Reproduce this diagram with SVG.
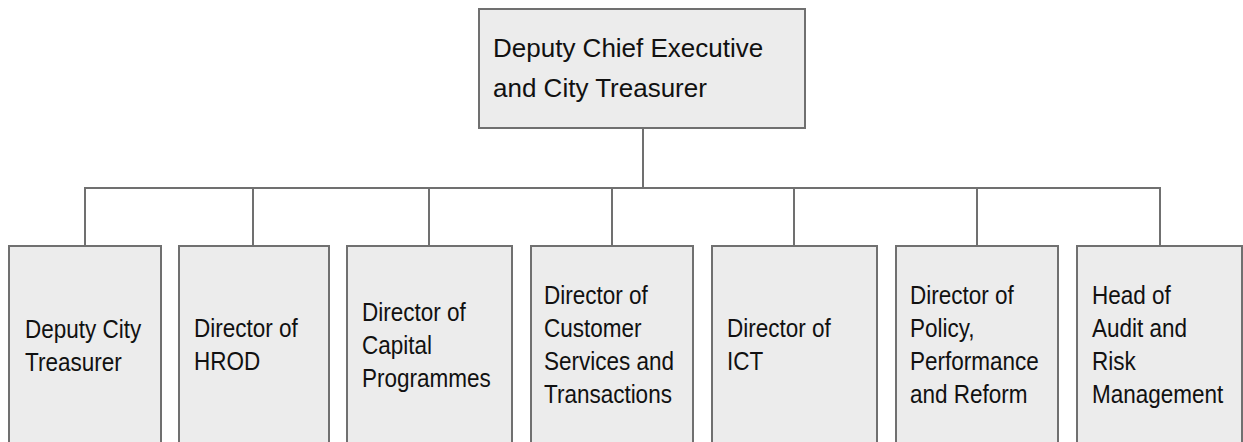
<svg xmlns="http://www.w3.org/2000/svg" width="1243" height="442" viewBox="0 0 1243 442">
<style>
.box{fill:#ececec;stroke:#707070;stroke-width:2}
.line{fill:none;stroke:#707070;stroke-width:2}
.t{font-family:"Liberation Sans",Arial,sans-serif;fill:#111111}
.top{font-size:26px}
.sub{font-size:25px}
</style>
<rect width="1243" height="442" fill="#ffffff"/>
<g id="connectors">
<path class="line" d="M643 128 V188 M85 246 V188 H1160 V246 M253 188 V246 M429 188 V246 M612 188 V246 M794 188 V246 M977 188 V246"/>
</g>
<g id="n0"><rect class="box" x="479" y="9" width="326" height="119"/>
<text class="t top"><tspan x="493" y="57">Deputy Chief Executive</tspan><tspan x="493" y="97">and City Treasurer</tspan></text></g>
<g id="n1"><rect class="box" x="9" y="246" width="152" height="210"/>
<text class="t sub" transform="translate(25,0) scale(0.9,1)"><tspan x="0" y="338">Deputy City</tspan><tspan x="0" y="371">Treasurer</tspan></text></g>
<g id="n2"><rect class="box" x="179" y="246" width="150" height="210"/>
<text class="t sub" transform="translate(194,0) scale(0.9,1)"><tspan x="0" y="337">Director of</tspan><tspan x="0" y="370">HROD</tspan></text></g>
<g id="n3"><rect class="box" x="347" y="246" width="165" height="210"/>
<text class="t sub" transform="translate(362,0) scale(0.9,1)"><tspan x="0" y="321">Director of</tspan><tspan x="0" y="354">Capital</tspan><tspan x="0" y="387">Programmes</tspan></text></g>
<g id="n4"><rect class="box" x="531" y="246" width="162" height="210"/>
<text class="t sub" transform="translate(544,0) scale(0.9,1)"><tspan x="0" y="304">Director of</tspan><tspan x="0" y="337">Customer</tspan><tspan x="0" y="370">Services and</tspan><tspan x="0" y="403">Transactions</tspan></text></g>
<g id="n5"><rect class="box" x="712" y="246" width="165" height="210"/>
<text class="t sub" transform="translate(727,0) scale(0.9,1)"><tspan x="0" y="337">Director of</tspan><tspan x="0" y="370">ICT</tspan></text></g>
<g id="n6"><rect class="box" x="896" y="246" width="162" height="210"/>
<text class="t sub" transform="translate(910,0) scale(0.9,1)"><tspan x="0" y="304">Director of</tspan><tspan x="0" y="337">Policy,</tspan><tspan x="0" y="370">Performance</tspan><tspan x="0" y="403">and Reform</tspan></text></g>
<g id="n7"><rect class="box" x="1077" y="246" width="165" height="210"/>
<text class="t sub" transform="translate(1092,0) scale(0.9,1)"><tspan x="0" y="304">Head of</tspan><tspan x="0" y="337">Audit and</tspan><tspan x="0" y="370">Risk</tspan><tspan x="0" y="403">Management</tspan></text></g>
</svg>
